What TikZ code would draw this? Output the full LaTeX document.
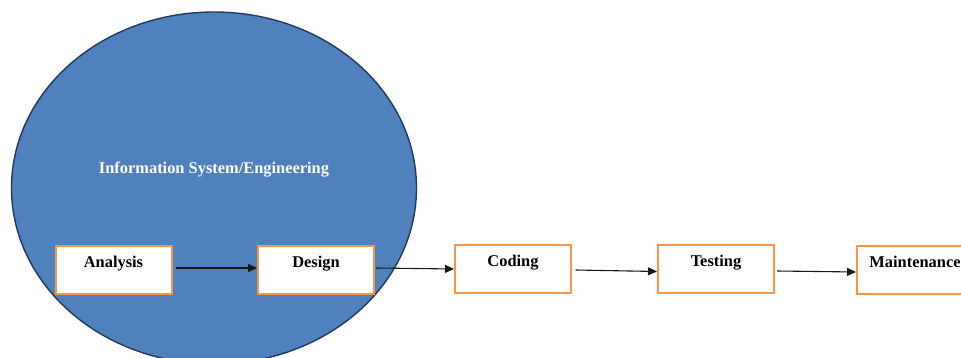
\documentclass[tikz,border=0pt]{standalone}
\usepackage{fontspec}
\setmainfont{Liberation Serif}
\usetikzlibrary{arrows.meta}
\definecolor{domainblue}{HTML}{4F81BD}
\definecolor{domainedge}{HTML}{1F3A5F}
\definecolor{stageorange}{HTML}{F79646}
\tikzset{
  stagebox/.style={draw=stageorange, line width=2pt, fill=white, rectangle,
    minimum width=116pt, minimum height=48pt, inner sep=0pt,
    text height=21pt, text depth=27pt,
    font=\bfseries\fontsize{16.4}{18}\selectfont, text=black},
  flow/.style={line width=1.1pt, draw=black!90,
    -{Triangle[length=9pt,width=8pt]}},
  sysregion/.style={draw=domainedge, line width=1.4pt, fill=domainblue},
  syslabel/.style={font=\bfseries\fontsize{16.4}{18}\selectfont, text=white, inner sep=0pt}
}
\begin{document}
\begin{tikzpicture}[x=1pt,y=-1pt]
  \path[use as bounding box, clip] (0,0) rectangle (961,358);

  % the information-system region
  \draw[sysregion] (214,188) ellipse [x radius=202.5, y radius=176];
  \node[syslabel, anchor=base] (isys) at (214,174) {Information System/Engineering};

  % life-cycle stages
  \node[stagebox] (ana) at (113.5,270) {Analysis};
  \node[stagebox] (des) at (316,270) {Design};
  \node[stagebox] (cod) at (513,269) {Coding};
  \node[stagebox] (tes) at (716,269) {Testing};
  \node[stagebox] (mai) at (915,270) {Maintenance};

  % flow between stages
  \draw[flow] ([xshift=3.5pt,yshift=2pt]ana.east) -- ([yshift=2pt]des.west);
  \draw[flow] ([xshift=1pt,yshift=2pt]des.east) -- ([yshift=0pt]cod.west);
  \draw[flow] ([xshift=3.5pt,yshift=-1pt]cod.east) -- ([yshift=-2.5pt]tes.west);
  \draw[flow] ([xshift=2pt,yshift=-2pt]tes.east) -- ([yshift=-2pt]mai.west);
\end{tikzpicture}
\end{document}
